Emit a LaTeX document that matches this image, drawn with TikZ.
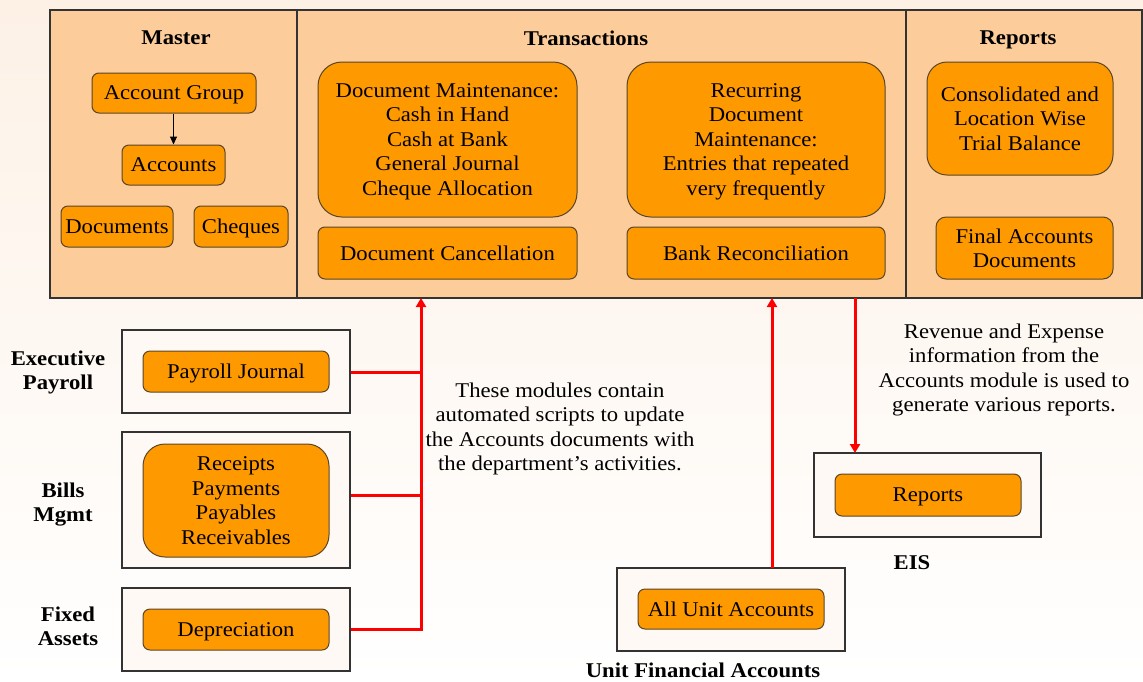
\documentclass[tikz,border=0pt]{standalone}
\usepackage{fontspec}
\setmainfont{Liberation Serif}[FakeStretch=1.08]
\usetikzlibrary{arrows.meta,calc}
\definecolor{bgtop}{HTML}{FDF1E6}
\definecolor{peach}{HTML}{FCCC9A}
\definecolor{orng}{HTML}{FF9900}
\definecolor{obord}{HTML}{5A4628}
\definecolor{pbord}{HTML}{333333}
\definecolor{rline}{HTML}{FF0000}
\tikzset{
  panel/.style={draw=pbord,line width=1.3pt,fill=peach,inner sep=0pt},
  obox/.style={draw=obord,line width=1pt,fill=orng,rounded corners=7pt,align=center,inner sep=0pt,text depth=0pt,font=\fontsize{21}{24.5}\selectfont},
  bigbox/.style={obox,rounded corners=24pt},
  wbox/.style={draw=pbord,line width=1.3pt,fill=white!60!bgtop,inner sep=0pt},
  ttl/.style={font=\bfseries\fontsize{21}{24}\selectfont,align=center,text depth=0pt},
  note/.style={font=\fontsize{21}{24.5}\selectfont,align=center},
  redl/.style={draw=rline,line width=3pt},
  reda/.style={redl,-{Triangle[width=10pt,length=9pt]}},
}
\begin{document}
\begin{tikzpicture}[x=1pt,y=-1pt]
\useasboundingbox (0,0) rectangle (1143,681);
\shade[top color=bgtop,bottom color=white] (0,0) rectangle (1143,681);
% panels
\node[panel,minimum width=247pt,minimum height=288pt] (mp) at (173.5,154) {};
\node[panel,minimum width=609pt,minimum height=288pt] (tp) at (601.5,154) {};
\node[panel,minimum width=236pt,minimum height=288pt] (rp) at (1024,154) {};
\node[ttl] (mt) at (176,38) {Master};
\node[ttl] (tt) at (586,38) {Transactions};
\node[ttl] (rt) at (1018,38) {Reports};
% master
\node[obox,minimum width=164pt,minimum height=40pt] (ag) at (174,93) {Account Group};
\node[obox,minimum width=103pt,minimum height=40pt] (ac) at (173.5,165) {Accounts};
\node[obox,minimum width=112pt,minimum height=41pt] (dc) at (117,226.5) {Documents};
\node[obox,minimum width=94pt,minimum height=41pt] (ch) at (241,226.5) {Cheques};
\draw[line width=1pt,-{Triangle[width=7pt,length=8pt]}] (ac.north |- ag.south) -- (ac.north);
% transactions
\node[bigbox,minimum width=259pt,minimum height=155pt] (dm) at (447.5,139.5) {Document Maintenance:\\Cash in Hand\\Cash at Bank\\General Journal\\Cheque Allocation};
\node[obox,minimum width=259pt,minimum height=52pt] (dcan) at (447.5,253) {Document Cancellation};
\node[bigbox,minimum width=258pt,minimum height=155pt] (rd) at (756,139.5) {Recurring\\Document\\Maintenance:\\Entries that repeated\\very frequently};
\node[obox,minimum width=258pt,minimum height=52pt] (br) at (756,253) {Bank Reconciliation};
% reports
\node[bigbox,rounded corners=20pt,minimum width=186pt,minimum height=113pt] (cl) at (1020,118.5) {Consolidated and\\Location Wise\\Trial Balance};
\node[obox,rounded corners=10pt,minimum width=177pt,minimum height=62pt] (fa) at (1024.5,248) {Final Accounts\\Documents};
% lower modules
\node[wbox,minimum width=228pt,minimum height=83pt] (po) at (236,371.5) {};
\node[obox,minimum width=186pt,minimum height=41pt] (pj) at (236,371.5) {Payroll Journal};
\node[wbox,minimum width=228pt,minimum height=136pt] (bo) at (236,500) {};
\node[bigbox,rounded corners=22pt,minimum width=186pt,minimum height=113pt] (bi) at (236,500.5) {Receipts\\Payments\\Payables\\Receivables};
\node[wbox,minimum width=228pt,minimum height=83pt] (fo) at (236,629.5) {};
\node[obox,minimum width=186pt,minimum height=41pt] (dp) at (236,629.5) {Depreciation};
\node[ttl] (el) at (58,370) {Executive\\Payroll};
\node[ttl] (bl) at (63,502) {Bills\\Mgmt};
\node[ttl] (fl) at (68,626) {Fixed\\Assets};
\node[wbox,minimum width=228pt,minimum height=83pt] (uo) at (731,609.5) {};
\node[obox,minimum width=186pt,minimum height=40pt] (ua) at (731,609) {All Unit Accounts};
\node[ttl] (ul) at (703,670) {Unit Financial Accounts};
\node[wbox,minimum width=227pt,minimum height=84pt] (eo) at (927.5,495) {};
\node[obox,minimum width=186pt,minimum height=42pt] (er) at (928,495) {Reports};
\node[ttl] (eis) at (912,563) {EIS};
% notes
\node[note] (n1) at (560,429) {These modules contain\\automated scripts to update\\the Accounts documents with\\the department’s activities.};
\node[note] (n2) at (1004,370) {Revenue and Expense\\information from the\\Accounts module is used to\\generate various reports.};
% red connectors
\coordinate (j1) at (421,372);
\coordinate (j2) at (421,495);
\coordinate (j3) at (421,629);
\coordinate (tin) at (421,298);
\draw[redl] (po.east |- j1) -- (j1);
\draw[redl] (bo.east |- j2) -- (j2);
\draw[reda] (fo.east |- j3) -- (j3) -- (tin);
\coordinate (uout) at (772,568);
\coordinate (uin) at (772,298);
\draw[reda] (uout) -- (uin);
\coordinate (eout) at (855,298);
\coordinate (ein) at (855,453);
\draw[reda] (eout) -- (ein);
\end{tikzpicture}
\end{document}
